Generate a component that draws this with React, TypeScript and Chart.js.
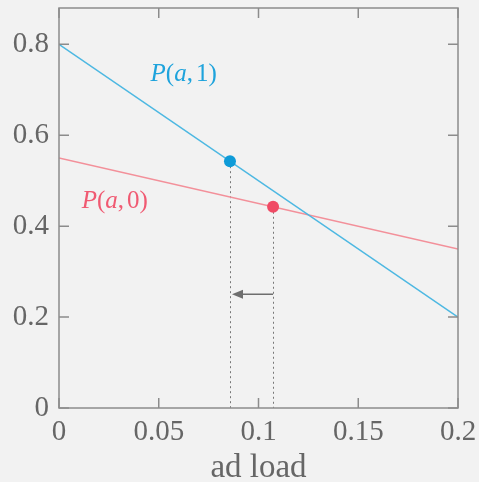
import React, { useEffect, useRef } from "react";
import { Chart, registerables } from "chart.js";

Chart.register(...registerables);

// ---- data ----
const adLoad = [0, 0.2];
const p1Values = [0.8, 0.2]; // P(a,1)
const p0Values = [0.55, 0.35]; // P(a,0)
const blueMarker = { x: 0.0857, y: 0.543 };
const redMarker = { x: 0.1073, y: 0.4427 };
const arrowY = 0.25;
const xTicks = [0, 0.05, 0.1, 0.15, 0.2];
const yTicks = [0, 0.2, 0.4, 0.6, 0.8];
const labelP1 = { text: ["P", "(", "a", ",", "1", ")"], x: 0.0625, y: 0.733 };
const labelP0 = { text: ["P", "(", "a", ",", "0", ")"], x: 0.028, y: 0.455 };

const BLUE_LINE = "#4db8e2";
const BLUE_PT = "#0e9bd8";
const BLUE_TXT = "#1ea3dc";
const RED_LINE = "#f3909a";
const RED_PT = "#f04a64";
const RED_TXT = "#f05a72";
const AXIS = "#8c8c8c";
const TEXT = "#666666";
const FONT = "'Liberation Serif', 'Times New Roman', serif";

const framePlugin = {
  id: "frame",
  afterDraw(chart: any) {
    const { ctx, chartArea } = chart;
    const { left, right, top, bottom } = chartArea;
    const xs = chart.scales.x;
    const ys = chart.scales.y;
    ctx.save();
    ctx.strokeStyle = AXIS;
    ctx.lineWidth = 1.5;
    ctx.strokeRect(left, top, right - left, bottom - top);
    const tl = 10;
    ctx.beginPath();
    xTicks.forEach((v) => {
      const px = xs.getPixelForValue(v);
      ctx.moveTo(px, bottom);
      ctx.lineTo(px, bottom - tl);
      ctx.moveTo(px, top);
      ctx.lineTo(px, top + tl);
    });
    yTicks.forEach((v) => {
      const py = ys.getPixelForValue(v);
      ctx.moveTo(left, py);
      ctx.lineTo(left + tl, py);
      ctx.moveTo(right, py);
      ctx.lineTo(right - tl, py);
    });
    ctx.stroke();
    ctx.restore();
  },
};

function drawMath(ctx: any, parts: string[], cx: number, cy: number, color: string) {
  const size = 25;
  const fontFor = (s: string) =>
    /[A-Za-z]/.test(s) ? `italic ${size}px ${FONT}` : `${size}px ${FONT}`;
  let total = 0;
  parts.forEach((s) => {
    ctx.font = fontFor(s);
    total += ctx.measureText(s).width + (s === "," ? 3 : 0);
  });
  let x = cx - total / 2;
  ctx.fillStyle = color;
  ctx.textBaseline = "middle";
  ctx.textAlign = "left";
  parts.forEach((s) => {
    ctx.font = fontFor(s);
    ctx.fillText(s, x, cy);
    x += ctx.measureText(s).width + (s === "," ? 3 : 0);
  });
}

const annotPlugin = {
  id: "annot",
  beforeDatasetsDraw(chart: any) {
    const { ctx } = chart;
    const xs = chart.scales.x;
    const ys = chart.scales.y;
    ctx.save();
    ctx.strokeStyle = "#777777";
    ctx.lineWidth = 1;
    ctx.setLineDash([2, 3]);
    [blueMarker, redMarker].forEach((m) => {
      const px = Math.round(xs.getPixelForValue(m.x)) + 0.5;
      ctx.beginPath();
      ctx.moveTo(px, ys.getPixelForValue(m.y));
      ctx.lineTo(px, ys.getPixelForValue(0));
      ctx.stroke();
    });
    ctx.setLineDash([]);
    // arrow from red x to blue x
    const x0 = xs.getPixelForValue(redMarker.x);
    const x1 = xs.getPixelForValue(blueMarker.x) + 2;
    const ay = ys.getPixelForValue(arrowY);
    ctx.strokeStyle = "#6e6e6e";
    ctx.fillStyle = "#6e6e6e";
    ctx.lineWidth = 1.5;
    ctx.beginPath();
    ctx.moveTo(x0, ay);
    ctx.lineTo(x1 + 8, ay);
    ctx.stroke();
    ctx.beginPath();
    ctx.moveTo(x1, ay);
    ctx.lineTo(x1 + 11, ay - 4.5);
    ctx.lineTo(x1 + 11, ay + 4.5);
    ctx.closePath();
    ctx.fill();
    // labels
    drawMath(ctx, labelP1.text, xs.getPixelForValue(labelP1.x), ys.getPixelForValue(labelP1.y), BLUE_TXT);
    drawMath(ctx, labelP0.text, xs.getPixelForValue(labelP0.x), ys.getPixelForValue(labelP0.y), RED_TXT);
    ctx.restore();
  },
};

export default function App() {
  const ref = useRef<HTMLCanvasElement | null>(null);
  useEffect(() => {
    if (!ref.current) return;
    const chart = new Chart(ref.current, {
      type: "scatter",
      data: {
        datasets: [
          {
            label: "marker1",
            data: [blueMarker],
            pointRadius: 6,
            pointBackgroundColor: BLUE_PT,
            pointBorderWidth: 0,
            showLine: false,
            order: 0,
          },
          {
            label: "marker0",
            data: [redMarker],
            pointRadius: 6,
            pointBackgroundColor: RED_PT,
            pointBorderWidth: 0,
            showLine: false,
            order: 0,
          },
          {
            label: "P(a,1)",
            data: adLoad.map((x, i) => ({ x, y: p1Values[i] })),
            showLine: true,
            borderColor: BLUE_LINE,
            borderWidth: 1.5,
            pointRadius: 0,
            order: 1,
          },
          {
            label: "P(a,0)",
            data: adLoad.map((x, i) => ({ x, y: p0Values[i] })),
            showLine: true,
            borderColor: RED_LINE,
            borderWidth: 1.5,
            pointRadius: 0,
            order: 1,
          },
        ],
      },
      options: {
        animation: false,
        responsive: true,
        maintainAspectRatio: false,
        layout: { padding: { top: 8, right: 21, left: 0, bottom: 0 } },
        plugins: { legend: { display: false }, tooltip: { enabled: false } },
        scales: {
          x: {
            type: "linear",
            min: 0,
            max: 0.2,
            afterBuildTicks: (s: any) => {
              s.ticks = xTicks.map((v) => ({ value: v }));
            },
            afterFit: (s: any) => {
              s.height = 74;
              s.paddingLeft = 0;
              s.paddingRight = 0;
            },
            grid: { display: false, drawTicks: false },
            border: { display: false },
            ticks: {
              color: TEXT,
              font: { family: FONT, size: 29 },
              padding: 7,
              callback: (v: any) => String(v),
            },
            title: {
              display: true,
              text: "ad load",
              color: TEXT,
              font: { family: FONT, size: 33 },
              padding: { top: 0, bottom: -6 },
            },
          },
          y: {
            type: "linear",
            min: 0,
            max: 0.88,
            afterBuildTicks: (s: any) => {
              s.ticks = yTicks.map((v) => ({ value: v }));
            },
            afterFit: (s: any) => {
              s.width = 59;
              s.paddingTop = 0;
              s.paddingBottom = 0;
            },
            grid: { display: false, drawTicks: false },
            border: { display: false },
            ticks: {
              color: TEXT,
              font: { family: FONT, size: 29 },
              padding: 10,
              callback: (v: any) => String(v),
            },
          },
        },
      },
      plugins: [annotPlugin, framePlugin],
    } as any);
    return () => chart.destroy();
  }, []);
  return (
    <div
      style={{
        position: "fixed",
        left: 0,
        top: 0,
        width: 479,
        height: 482,
        background: "#f2f2f2",
      }}
    >
      <canvas ref={ref} />
    </div>
  );
}
